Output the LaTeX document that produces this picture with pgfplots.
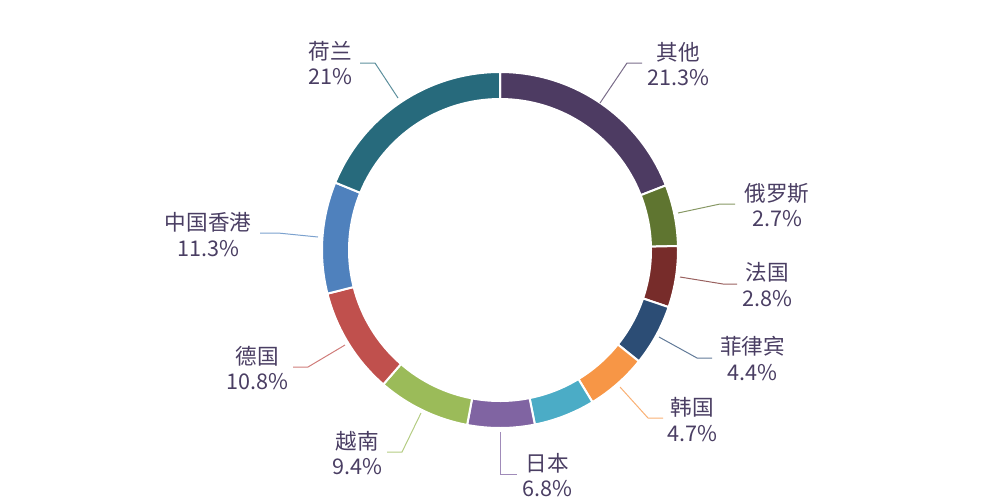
\documentclass[border=0pt]{standalone}
\usepackage{pgfplots}
\usepackage{pgfplotstable}
\pgfplotsset{compat=1.18}
\usepackage{fontspec}
\setmainfont{Noto Sans CJK SC}

\definecolor{slice0}{HTML}{4D3B62}
\definecolor{slice1}{HTML}{5F7530}
\definecolor{slice2}{HTML}{772C2A}
\definecolor{slice3}{HTML}{2C4D75}
\definecolor{slice4}{HTML}{F79646}
\definecolor{slice5}{HTML}{4BACC6}
\definecolor{slice6}{HTML}{8064A2}
\definecolor{slice7}{HTML}{9BBB59}
\definecolor{slice8}{HTML}{C0504D}
\definecolor{slice9}{HTML}{4F81BD}
\definecolor{slice10}{HTML}{276A7C}
\definecolor{txt}{HTML}{4A3E63}

% shares in %, clockwise from 12 o'clock
\pgfplotstableread{
name value
其他 21.3
俄罗斯 2.7
法国 2.8
菲律宾 4.4
韩国 4.7
未标注 4.8
日本 6.8
越南 9.4
德国 10.8
中国香港 11.3
荷兰 21
}\piedata

% slices smaller than \minangle get \minangle, the rest share what is left
\def\minangle{20}
\pgfplotstablegetrowsof{\piedata}
\pgfmathtruncatemacro\lastrow{\pgfplotsretval-1}
\def\total{0}
\pgfplotsforeachungrouped \i in {0,...,\lastrow}{%
  \pgfplotstablegetelem{\i}{value}\of\piedata
  \pgfmathsetmacro\total{\total+\pgfplotsretval}}
\def\bigsum{0}\def\nsmall{0}
\pgfplotsforeachungrouped \i in {0,...,\lastrow}{%
  \pgfplotstablegetelem{\i}{value}\of\piedata
  \let\v\pgfplotsretval
  \pgfmathparse{\v/\total*360<\minangle}%
  \ifdim\pgfmathresult pt>0.5pt
    \pgfmathsetmacro\nsmall{\nsmall+1}%
  \else
    \pgfmathsetmacro\bigsum{\bigsum+\v}%
  \fi}
\pgfmathsetmacro\angscale{(360-\minangle*\nsmall)/\bigsum}
\def\acc{0}
\pgfplotsforeachungrouped \i in {0,...,\lastrow}{%
  \pgfplotstablegetelem{\i}{value}\of\piedata
  \let\v\pgfplotsretval
  \pgfmathsetmacro\slicespan{\v/\total*360<\minangle ? \minangle : \v*\angscale}%
  \expandafter\xdef\csname sA\i\endcsname{\acc}%
  \pgfmathsetmacro\acc{\acc+\slicespan}%
  \expandafter\xdef\csname sB\i\endcsname{\acc}}

\newcommand{\lbl}[9]{%
  \draw[#7, opacity=0.75, line width=0.5pt] (axis cs:#1) -- (axis cs:#2) -- (axis cs:#3);
  \node[txt, align=center, inner sep=0pt, font=\fontsize{10.8pt}{12.6pt}\selectfont]
    at (axis cs:#4) {#5\\#6};}

\begin{document}
\begin{tikzpicture}
\begin{axis}[
    width=500pt, height=250pt, scale only axis,
    xmin=0, xmax=1000, ymin=0, ymax=500, y dir=reverse,
    hide axis, clip=false,
]
\begin{scope}[shift={(axis cs:500,250)}]
\pgfplotsinvokeforeach{0,...,10}{
  \filldraw[fill=slice#1, draw=white, line width=1pt]
    ({90-\csname sA#1\endcsname}:89pt)
    arc[start angle={90-\csname sA#1\endcsname}, end angle={90-\csname sB#1\endcsname}, radius=89pt]
    -- ({90-\csname sB#1\endcsname}:75.5pt)
    arc[start angle={90-\csname sB#1\endcsname}, end angle={90-\csname sA#1\endcsname}, radius=75.5pt]
    -- cycle;
}
\end{scope}
\lbl{600,103}{627,63}{642,63}{678,64}{其他}{21.3\%}{slice0}{}{}
\lbl{678,213}{720,204}{735,204}{777,205}{俄罗斯}{2.7\%}{slice1}{}{}
\lbl{680,277}{723,284}{737,284}{767,284.5}{法国}{2.8\%}{slice2}{}{}
\lbl{659,337}{697,358}{712,358}{752.5,358.5}{菲律宾}{4.4\%}{slice3}{}{}
\lbl{620,387}{648,418}{663,418}{692.5,419.5}{韩国}{4.7\%}{slice4}{}{}
\lbl{500,432}{500,474}{517,474}{547.5,475}{日本}{6.8\%}{slice6}{}{}
\lbl{421,413}{402,452}{387,452}{357,453}{越南}{9.4\%}{slice7}{}{}
\lbl{345,345}{308,367}{293,367}{257,368}{德国}{10.8\%}{slice8}{}{}
\lbl{318,237}{278,233}{260,233}{208,234.5}{中国香港}{11.3\%}{slice9}{}{}
\lbl{398,98}{375,63}{360,63}{330,63}{荷兰}{21\%}{slice10}{}{}
\end{axis}
\pgfresetboundingbox
\path (current axis.south west) rectangle (current axis.north east);
\end{tikzpicture}
\end{document}
